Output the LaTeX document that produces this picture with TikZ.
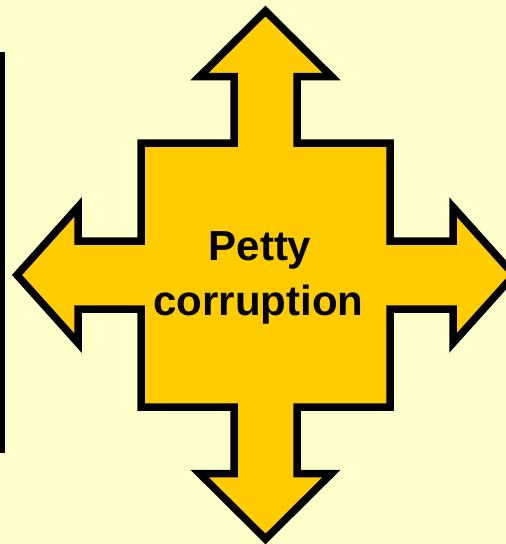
\documentclass[tikz,border=0pt]{standalone}
\usepackage{fontspec}
\setmainfont{Liberation Sans}
\definecolor{bgyellow}{HTML}{FFFFCC}
\definecolor{gold}{HTML}{FFCC00}
\tikzset{
  arrowshape/.style={draw=black, fill=gold, line width=7.5pt, line join=miter, miter limit=10},
  labeltext/.style={font=\fontsize{42}{55}\selectfont\bfseries, text=black, inner sep=0pt}
}
\begin{document}
\begin{tikzpicture}[x=1pt,y=-1pt]
\fill[bgyellow] (0,0) rectangle (506,544);
\useasboundingbox (0,0) rectangle (506,544);
\fill[black] (0,52) rectangle (5,453);
\draw[arrowshape]
  (265.5,11) -- (331.5,76.5) -- (297,76.5) -- (297,143) -- (390,143)
  -- (390,241) -- (453,241) -- (453,207) -- (514,275) -- (453,343) -- (453,309) -- (390,309)
  -- (390,407) -- (297,407) -- (297,473.5) -- (331.5,473.5) -- (265.5,539) -- (199.5,473.5) -- (234,473.5) -- (234,407)
  -- (141,407) -- (141,309) -- (78,309) -- (78,343) -- (17,275) -- (78,207) -- (78,241) -- (141,241)
  -- (141,143) -- (234,143) -- (234,76.5) -- (199.5,76.5) -- cycle;
\node[labeltext, anchor=base] (l1) at (260,260) {Petty};
\node[labeltext, anchor=base] (l2) at (258.5,315) {corruption};
\end{tikzpicture}
\end{document}
